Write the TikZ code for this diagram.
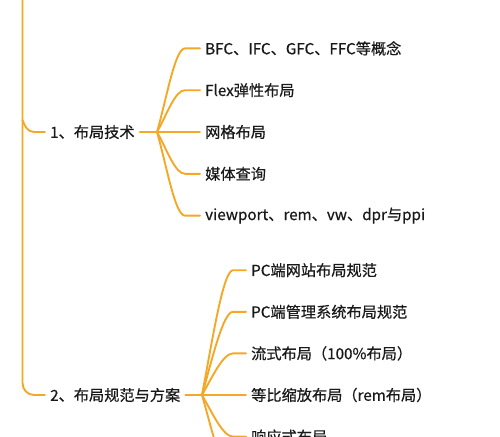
\documentclass[tikz,border=0pt]{standalone}
\usepackage{fontspec}
\setmainfont{Noto Sans CJK SC}[FakeBold=0.6]
\definecolor{branchorange}{RGB}{245,168,40}
\tikzset{
  branch/.style={draw=branchorange, line width=1.9pt, line cap=round},
  topic/.style={anchor=west, inner xsep=5pt, inner ysep=2pt,
                font=\fontsize{15.2}{18}\selectfont, text=black!90},
}
\begin{document}
\begin{tikzpicture}[x=1pt,y=-1pt]
        \useasboundingbox (0,0) rectangle (500,436);
        \clip (0,0) rectangle (500,436);

        % Main topics
        \node[topic] (layout) at (45,132) {1、布局技术};
        \node[topic] (scheme) at (45,395) {2、布局规范与方案};
        \coordinate (trunktop) at (22.5,-5);
        \coordinate (trunkjoin) at (22.5,120);
        \coordinate (forklayout) at (157,132);
        \coordinate (forkscheme) at (202,395);

        % Trunk and the two branches off it
        \draw[branch] (trunktop) -- (22.5,383) to[out=-90,in=180] (34,395) -- (scheme.west);
        \draw[branch] (trunkjoin) to[out=-70,in=180] (34,132) -- (layout.west);
        \draw[branch] (layout.east) -- (forklayout);
        \draw[branch] (scheme.east) -- (forkscheme);

        % Children of the first topic
        \foreach \label [count=\i] in {BFC、IFC、GFC、FFC等概念, Flex弹性布局, 网格布局, 媒体查询, viewport、rem、vw、dpr与ppi}
           {
                \pgfmathsetmacro{\dy}{(\i-3)*41.8}
                \node[topic] (tech\i) at (200,132+\dy) {\label};
                \draw[branch] (forklayout) .. controls +(10,0.42*\dy) and +(-10,0) .. (185,132+\dy) -- (tech\i.west);
           }

        % Children of the second topic
        \foreach \label [count=\i] in {PC端网站布局规范, PC端管理系统布局规范, 流式布局（100\%布局）, 等比缩放布局（rem布局）, 响应式布局}
           {
                \pgfmathsetmacro{\dy}{(\i-4)*41.6}
                \node[topic] (plan\i) at (246,395+\dy) {\label};
                \draw[branch] (forkscheme) .. controls +(10,0.42*\dy) and +(-10,0) .. (233,395+\dy) -- (plan\i.west);
           }
        \coordinate (plan6) at (246,478.2);
        \draw[branch] (forkscheme) .. controls +(10,35) and +(-10,0) .. (233,478.2) -- (plan6);
    \end{tikzpicture}
\end{document}
